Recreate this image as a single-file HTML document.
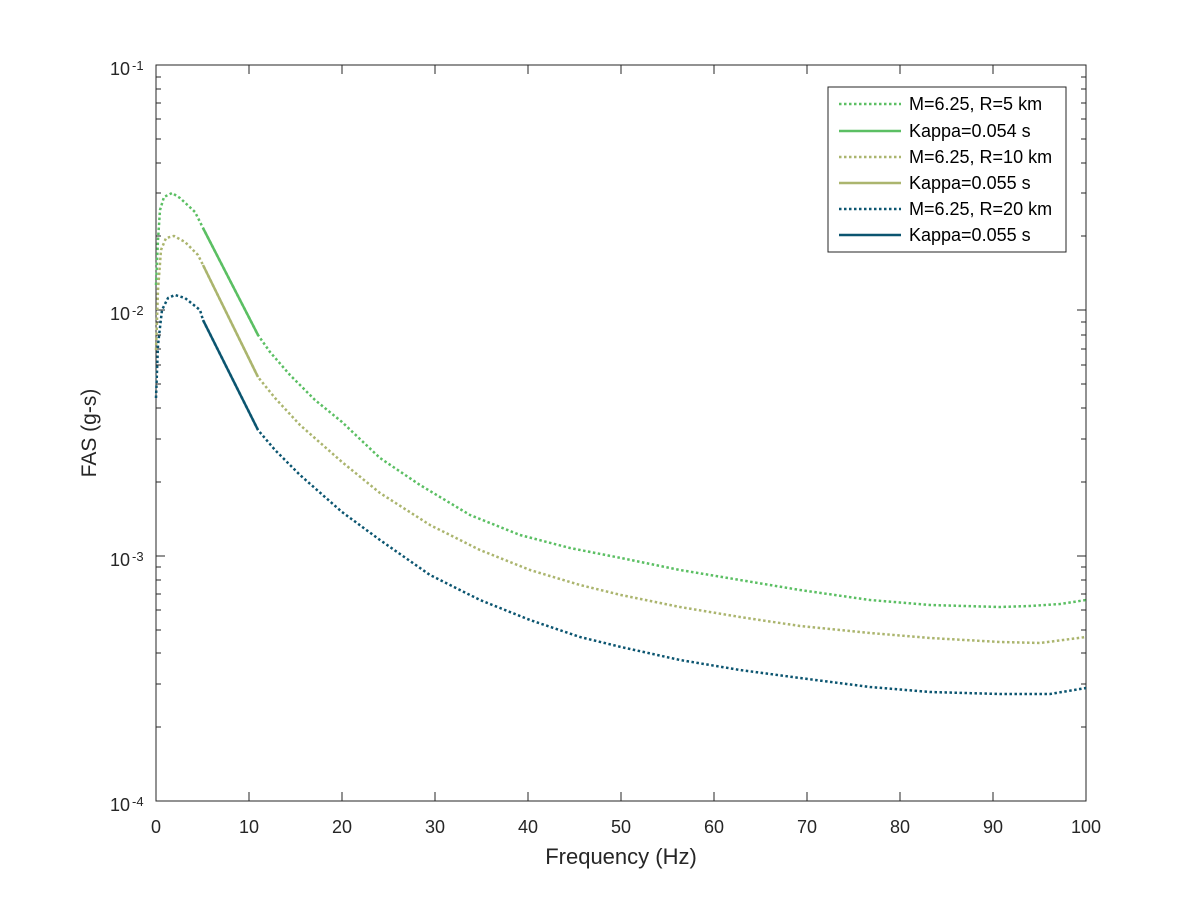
<!DOCTYPE html>
<html><head><style>body{margin:0;background:#fff}svg{display:block}</style></head><body>
<svg width="1200" height="900" xmlns="http://www.w3.org/2000/svg" font-family="Liberation Sans, sans-serif">
<rect width="1200" height="900" fill="#fff"/>
<rect x="156" y="65" width="930" height="736" fill="#fff" stroke="#262626" stroke-width="1"/>
<g stroke="#262626" stroke-width="1">
<path d="M156,801v-9M249,801v-9M342,801v-9M435,801v-9M528,801v-9M621,801v-9M714,801v-9M807,801v-9M900,801v-9M993,801v-9M1086,801v-9
M156,65v9M249,65v9M342,65v9M435,65v9M528,65v9M621,65v9M714,65v9M807,65v9M900,65v9M993,65v9M1086,65v9"/>
<path d="M156,65h9M156,310h9M156,556h9M156,801h9M1086,65h-9M1086,310h-9M1086,556h-9M1086,801h-9"/>
<path d="M156,727h5M156,684h5M156,653h5M156,630h5M156,610h5M156,594h5M156,580h5M156,567h5
M156,482h5M156,439h5M156,408h5M156,384h5M156,365h5M156,349h5M156,335h5M156,322h5
M156,236h5M156,193h5M156,163h5M156,139h5M156,119h5M156,103h5M156,89h5M156,77h5
M1086,727h-5M1086,684h-5M1086,653h-5M1086,630h-5M1086,610h-5M1086,594h-5M1086,580h-5M1086,567h-5
M1086,482h-5M1086,439h-5M1086,408h-5M1086,384h-5M1086,365h-5M1086,349h-5M1086,335h-5M1086,322h-5
M1086,236h-5M1086,193h-5M1086,163h-5M1086,139h-5M1086,119h-5M1086,103h-5M1086,89h-5M1086,77h-5"/>
</g>
<g font-size="18" fill="#262626" text-anchor="middle">
<text x="156" y="833">0</text><text x="249" y="833">10</text><text x="342" y="833">20</text><text x="435" y="833">30</text><text x="528" y="833">40</text><text x="621" y="833">50</text><text x="714" y="833">60</text><text x="807" y="833">70</text><text x="900" y="833">80</text><text x="993" y="833">90</text><text x="1086" y="833">100</text>
</g>
<g font-size="18" fill="#262626">
<text x="110" y="75">10</text><text x="132" y="70" font-size="13">-1</text>
<text x="110" y="320">10</text><text x="132" y="315" font-size="13">-2</text>
<text x="110" y="566">10</text><text x="132" y="561" font-size="13">-3</text>
<text x="110" y="811">10</text><text x="132" y="806" font-size="13">-4</text>
</g>
<text x="621" y="864" font-size="22" fill="#262626" text-anchor="middle">Frequency (Hz)</text>
<text transform="translate(96,433) rotate(-90)" font-size="21" fill="#262626" text-anchor="middle">FAS (g-s)</text>
<g fill="none" stroke-width="2.5" stroke-linejoin="round">
<polyline stroke="#5BBF63" stroke-dasharray="2.5,2.5" points="156,285 158,240 160,210 164,197 172,193 180,198 195,212 203,228 258,335 270,352 290,375 315,400 342,422 380,458 420,485 470,515 520,535 570,548 621,558 680,570 740,580 800,590 870,600 930,605 1000,607 1030,606 1060,604 1086,600"/>
<polyline stroke="#5BBF63" points="203,228 258,335"/>
<polyline stroke="#ABB56E" stroke-dasharray="2.5,2.5" points="156,350 158,290 161,250 166,238 174,236 185,242 198,255 203,265 258,377 275,398 300,425 342,462 380,493 430,525 480,550 530,570 580,585 621,595 680,607 740,617 800,626 870,633 930,638 1000,642 1040,643 1086,637"/>
<polyline stroke="#ABB56E" points="203,265 258,377"/>
<polyline stroke="#0B5570" stroke-dasharray="2.5,2.5" points="156,398 158,345 162,310 168,298 175,295 185,298 200,310 203,320 258,430 275,450 300,475 342,512 380,540 430,575 480,600 530,620 580,637 621,647 680,660 740,670 800,678 870,687 930,692 1000,694 1050,694 1086,688"/>
<polyline stroke="#0B5570" points="203,320 258,430"/>
</g>
<rect x="828" y="87" width="238" height="165" fill="#fff" stroke="#262626" stroke-width="1"/>
<g stroke-width="2.5">
<line x1="839" y1="104" x2="901" y2="104" stroke="#5BBF63" stroke-dasharray="2.5,2.5"/>
<line x1="839" y1="131" x2="901" y2="131" stroke="#5BBF63"/>
<line x1="839" y1="157" x2="901" y2="157" stroke="#ABB56E" stroke-dasharray="2.5,2.5"/>
<line x1="839" y1="183" x2="901" y2="183" stroke="#ABB56E"/>
<line x1="839" y1="209" x2="901" y2="209" stroke="#0B5570" stroke-dasharray="2.5,2.5"/>
<line x1="839" y1="235" x2="901" y2="235" stroke="#0B5570"/>
</g>
<g font-size="18" fill="#000">
<text x="909" y="110">M=6.25, R=5 km</text>
<text x="909" y="137">Kappa=0.054 s</text>
<text x="909" y="163">M=6.25, R=10 km</text>
<text x="909" y="189">Kappa=0.055 s</text>
<text x="909" y="215">M=6.25, R=20 km</text>
<text x="909" y="241">Kappa=0.055 s</text>
</g>
</svg>
</body></html>
